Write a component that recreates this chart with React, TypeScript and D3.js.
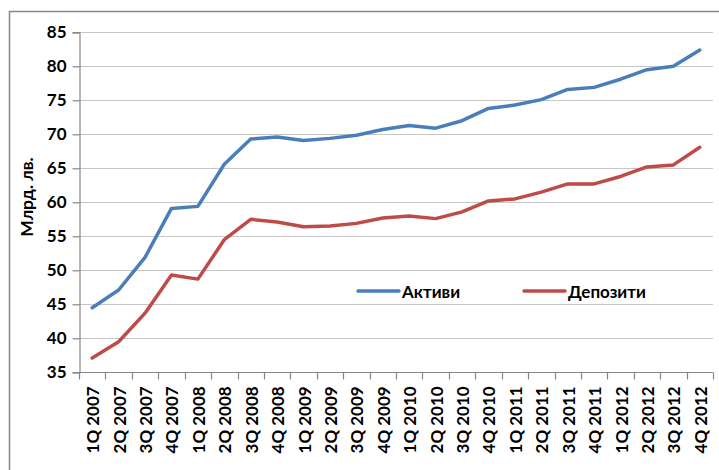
import React, { useEffect, useRef } from "react";
import * as d3 from "d3";

const categories = [
  "1Q 2007", "2Q 2007", "3Q 2007", "4Q 2007",
  "1Q 2008", "2Q 2008", "3Q 2008", "4Q 2008",
  "1Q 2009", "2Q 2009", "3Q 2009", "4Q 2009",
  "1Q 2010", "2Q 2010", "3Q 2010", "4Q 2010",
  "1Q 2011", "2Q 2011", "3Q 2011", "4Q 2011",
  "1Q 2012", "2Q 2012", "3Q 2012", "4Q 2012",
];
const assets = [
  44.5, 47.1, 51.9, 59.1, 59.4, 65.6, 69.3, 69.6,
  69.1, 69.4, 69.85, 70.7, 71.3, 70.9, 72.0, 73.8,
  74.3, 75.1, 76.6, 76.9, 78.1, 79.5, 80.0, 82.4,
];
const deposits = [
  37.1, 39.5, 43.7, 49.3, 48.7, 54.5, 57.5, 57.1,
  56.4, 56.5, 56.9, 57.7, 58.0, 57.6, 58.6, 60.2,
  60.5, 61.5, 62.7, 62.7, 63.8, 65.2, 65.5, 68.1,
];
const yTicks = [35, 40, 45, 50, 55, 60, 65, 70, 75, 80, 85];
const seriesNames = ["Активи", "Депозити"];
const yTitle = "Млрд. лв.";

const W = 719;
const H = 470;
const FONT = "Lato, 'Open Sans', sans-serif";
const BLUE = "#4A7EBB";
const RED = "#BE4B48";

export default function App() {
  const ref = useRef<SVGSVGElement>(null);

  useEffect(() => {
    const svg = d3.select(ref.current);
    svg.selectAll("*").remove();

    const left = 79, right = 713, top = 32.3, bottom = 372.3;
    const x = d3.scaleBand().domain(categories).range([left, right]).padding(0);
    const y = d3.scaleLinear().domain([35, 85]).range([bottom, top]);

    svg.append("rect").attr("x", 0).attr("y", 0).attr("width", W).attr("height", H).attr("fill", "#fff");
    // outer frame
    svg.append("rect")
      .attr("x", 9.5).attr("y", 11.5).attr("width", W + 20).attr("height", H + 20)
      .attr("fill", "none").attr("stroke", "#868686").attr("stroke-width", 1.5);

    // gridlines
    svg.append("g").selectAll("line").data(yTicks.filter((t) => t !== 35)).join("line")
      .attr("x1", left).attr("x2", right)
      .attr("y1", (d) => Math.round(y(d)) + 0.5).attr("y2", (d) => Math.round(y(d)) + 0.5)
      .attr("stroke", "#c6c6c6").attr("stroke-width", 1.2);

    // y axis
    const yAxis = svg.append("g").attr("transform", `translate(${left + 0.5},0)`)
      .call(d3.axisLeft(y).tickValues(yTicks).tickSize(7).tickPadding(6).tickFormat(d3.format("d")));
    yAxis.select(".domain").attr("stroke", "#868686").attr("stroke-width", 1.2);
    yAxis.selectAll(".tick line").attr("stroke", "#868686").attr("stroke-width", 1.2);
    yAxis.selectAll(".tick text")
      .attr("font-family", FONT).attr("font-weight", "bold").attr("font-size", 17).attr("fill", "#000");

    // x axis
    const xAxis = svg.append("g").attr("transform", `translate(0,${Math.round(bottom) + 0.5})`);
    xAxis.append("line").attr("x1", left).attr("x2", right).attr("stroke", "#868686").attr("stroke-width", 1.2);
    const bounds = categories.map((c) => x(c)!).concat([right]);
    xAxis.selectAll("line.tk").data(bounds).join("line").attr("class", "tk")
      .attr("x1", (d) => Math.round(d) + 0.5).attr("x2", (d) => Math.round(d) + 0.5)
      .attr("y1", 0).attr("y2", 7).attr("stroke", "#868686").attr("stroke-width", 1.2);
    svg.append("g").selectAll("text").data(categories).join("text")
      .attr("transform", (d) => `translate(${x(d)! + x.bandwidth() / 2 + 0.5},${bottom + 14}) rotate(-90)`)
      .attr("text-anchor", "end").attr("dominant-baseline", "central")
      .attr("font-family", FONT).attr("font-weight", "bold").attr("font-size", 17).attr("fill", "#000")
      .text((d) => d);

    // y title
    svg.append("text")
      .attr("transform", `translate(26,197) rotate(-90)`)
      .attr("text-anchor", "middle").attr("dominant-baseline", "central")
      .attr("font-family", FONT).attr("font-weight", "bold").attr("font-size", 17.5).attr("fill", "#000")
      .text(yTitle);

    const line = d3.line<number>()
      .x((_, i) => x(categories[i])! + x.bandwidth() / 2)
      .y((d) => y(d));

    [assets, deposits].forEach((s, i) => {
      svg.append("path").datum(s).attr("d", line)
        .attr("fill", "none").attr("stroke", i === 0 ? BLUE : RED)
        .attr("stroke-width", 3.5).attr("stroke-linejoin", "round").attr("stroke-linecap", "round");
    });

    // legend
    const legendItems = [
      { x1: 358, name: seriesNames[0], color: BLUE },
      { x1: 524, name: seriesNames[1], color: RED },
    ];
    const ly = 291;
    legendItems.forEach((it) => {
      svg.append("line").attr("x1", it.x1).attr("x2", it.x1 + 41).attr("y1", ly).attr("y2", ly)
        .attr("stroke", it.color).attr("stroke-width", 3.5).attr("stroke-linecap", "round");
      svg.append("text").attr("x", it.x1 + 44).attr("y", ly).attr("dominant-baseline", "central")
        .attr("font-family", FONT).attr("font-weight", "bold").attr("font-size", 17).attr("fill", "#000")
        .text(it.name);
    });
  }, []);

  return (
    <svg
      ref={ref}
      width={W}
      height={H}
      style={{ position: "absolute", left: 0, top: 0, display: "block" }}
    />
  );
}
